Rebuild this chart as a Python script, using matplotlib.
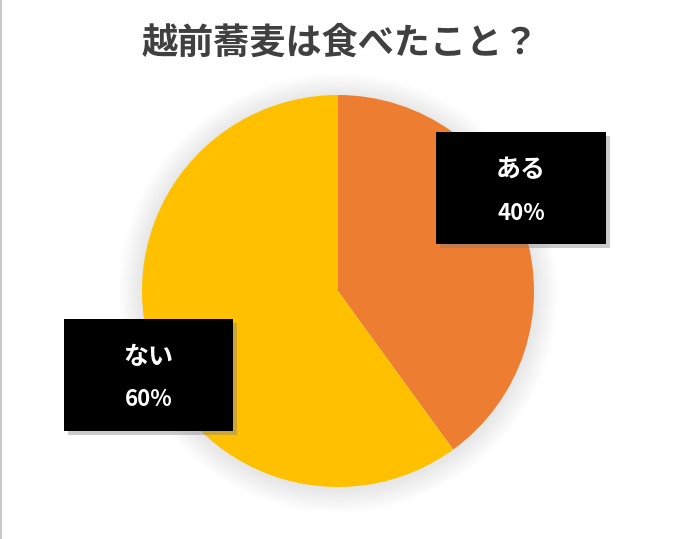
import matplotlib
matplotlib.use('Agg')
import matplotlib.pyplot as plt
from matplotlib.patches import Rectangle, Circle

plt.rcParams['font.family'] = ['Noto Sans CJK JP', 'DejaVu Sans']

titulo = '越前蕎麦は食べたこと？'
etiquetas = ['ある', 'ない']
valores = [40, 60]
colores = ['#ED7D31', '#FFC000']

W, H = 686, 539
fig = plt.figure(figsize=(W / 100, H / 100), dpi=100)
fig.patch.set_facecolor('white')

# borde izquierdo
fig.add_artist(plt.Line2D([0.001, 0.001], [0, 1], color='#BFBFBF', lw=1.2, transform=fig.transFigure))

fig.text(340 / W, 1 - 43 / H, titulo, ha='center', va='center', fontsize=26,
         fontweight='bold', color='#404040')

# pastel
cx, cy, r = 338, 291, 196
m = 30
ax = fig.add_axes([(cx - r - m) / W, (H - cy - r - m) / H, (2 * r + 2 * m) / W, (2 * r + 2 * m) / H])

# sombra suave
for i in range(12):
    ax.add_patch(Circle((0, -0.01), 1 + 0.01 * (12 - i), color='#000000', alpha=0.007, lw=0))

ax.pie(valores, colors=colores, startangle=90, counterclock=False, radius=1,
       wedgeprops=dict(linewidth=0))
ax.set_xlim(-1 - m / r, 1 + m / r)
ax.set_ylim(-1 - m / r, 1 + m / r)
ax.set_aspect('equal')
ax.axis('off')

# cajas de etiquetas
cajas = [(436, 132, 170, 112), (64, 319, 169, 112)]
for (x, y, w, h), et, v in zip(cajas, etiquetas, valores):
    sombra = Rectangle(((x + 4) / W, 1 - (y + h + 4) / H), w / W, h / H,
                       transform=fig.transFigure, facecolor='#7F7F7F', alpha=0.4, lw=0)
    fig.add_artist(sombra)
    caja = Rectangle((x / W, 1 - (y + h) / H), w / W, h / H,
                     transform=fig.transFigure, facecolor='black', lw=0)
    fig.add_artist(caja)
    fig.text((x + w / 2) / W, 1 - (y + 38) / H, et, ha='center', va='center',
             fontsize=18, fontweight='bold', color='white')
    fig.text((x + w / 2) / W, 1 - (y + 81) / H, '{}%'.format(v), ha='center', va='center',
             fontsize=16, fontweight='bold', color='white')

fig.savefig('out.png', dpi=100)
